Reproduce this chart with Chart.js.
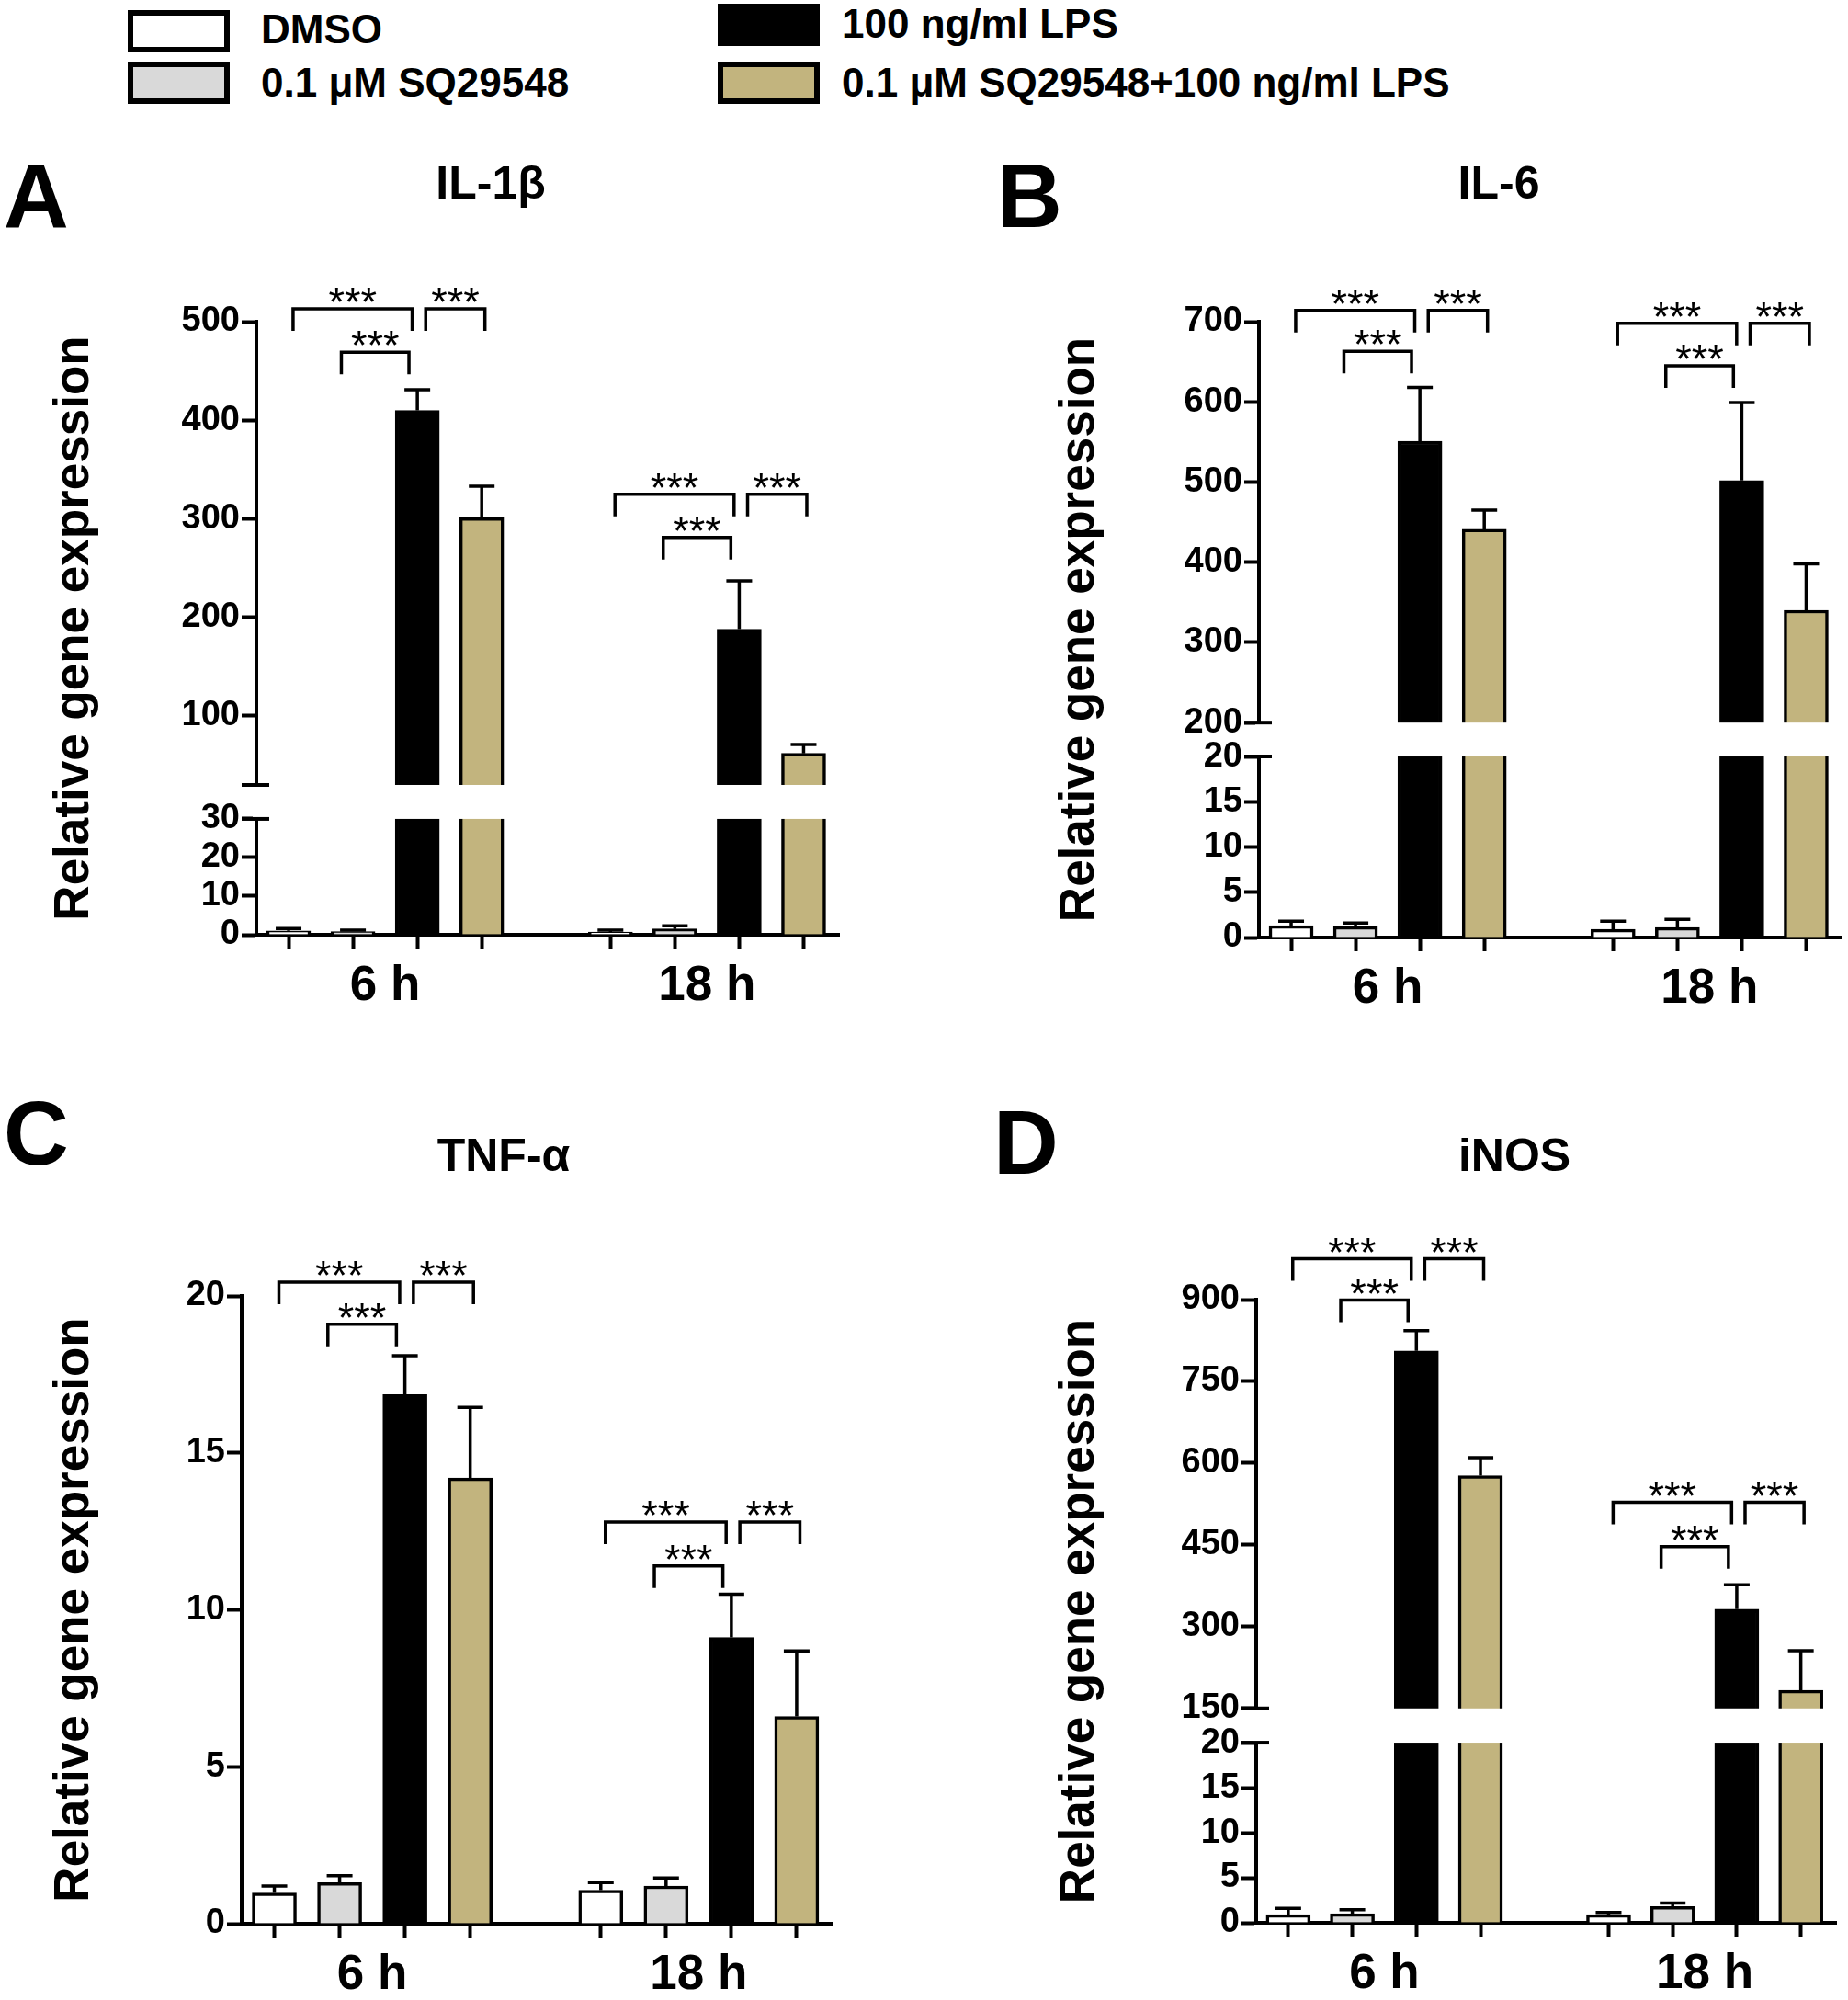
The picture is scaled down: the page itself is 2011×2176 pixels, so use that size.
<!DOCTYPE html>
<html>
<head>
<meta charset="utf-8">
<script src="https://cdn.jsdelivr.net/npm/chart.js@4.4.1/dist/chart.umd.min.js"></script>
<style>
  body { margin: 0; background: #fff; width: 2011px; height: 2176px; position: relative; overflow: hidden;
         font-family: "Liberation Sans", Arial, sans-serif; }
  .key { position: absolute; box-sizing: border-box; border: 6px solid #000; width: 111px; height: 46px; }
  .lab { position: absolute; font-weight: bold; font-size: 44px; line-height: 44px; color: #000; white-space: nowrap; }
  canvas { position: absolute; }
</style>
</head>
<body>
<script>
const FONT = '"Liberation Sans", Arial, sans-serif';

const groups = ['6 h', '18 h'];
const series = ['DMSO', '0.1 μM SQ29548', '100 ng/ml LPS', '0.1 μM SQ29548+100 ng/ml LPS'];
const seriesColors = ['#ffffff', '#d9d9d9', '#000000', '#c2b47e'];
// x position of each series' bar in the 6 h and 18 h groups
const barPos = [[1, 6], [2, 7], [3, 8], [4, 9]];
const groupCentres = [2.5, 7.5];

// values ordered 6 h (DMSO, SQ, LPS, SQ+LPS) then 18 h (same order)
const il1bMean = [1.0, 0.8, 410, 301, 0.7, 1.5, 188, 62];
const il1bSem  = [0.6, 0.4, 21, 32, 0.5, 0.8, 49, 9];
const il6Mean  = [1.3, 1.2, 551, 441, 0.9, 1.1, 502, 340];
const il6Sem   = [0.5, 0.4, 67, 24, 0.9, 0.9, 97, 58];
const tnfMean  = [0.98, 1.31, 16.86, 14.2, 1.07, 1.2, 9.12, 6.6];
const tnfSem   = [0.22, 0.22, 1.24, 2.25, 0.24, 0.26, 1.38, 2.09];
const inosMean = [0.9, 1.0, 806, 577, 0.9, 1.8, 332, 183];
const inosSem  = [0.7, 0.45, 37, 33, 0.25, 0.4, 45, 73];

// y tick labels
const il1bTicks = [0, 10, 20, 30, 100, 200, 300, 400, 500];
const il6Ticks  = [0, 5, 10, 15, 20, 200, 300, 400, 500, 600, 700];
const tnfTicks  = [0, 5, 10, 15, 20];
const inosTicks = [0, 5, 10, 15, 20, 150, 300, 450, 600, 750, 900];

// bracket heights: 6 h outer, 6 h inner, 18 h outer, 18 h inner
const il1bSig = [513, 469, 325, 281];
const il6Sig  = [714, 663, 698, 645];
const tnfSig  = [20.44, 19.1, 12.8, 11.4];
const inosSig = [975, 899, 528, 447];

// legend (plain html)
const keyPlaces = [[139, 11, 284, 10], [139, 67, 284, 68], [781, 4, 916, 4], [781, 67, 916, 68]];
series.forEach((name, i) => {
  const [bx, by, tx, ty] = keyPlaces[i];
  const box = document.createElement('div');
  box.className = 'key';
  box.style.left = bx + 'px'; box.style.top = by + 'px';
  box.style.background = seriesColors[i];
  document.body.appendChild(box);
  const lab = document.createElement('div');
  lab.className = 'lab';
  lab.style.left = tx + 'px'; lab.style.top = ty + 'px';
  lab.textContent = name;
  document.body.appendChild(lab);
});

// y scale with a gap: values up to lowMax fill the bottom lowFrac of the axis,
// values from upMin fill the part above upFrac
class BrokenScale extends Chart.LinearScale {
  getPixelForValue(value) {
    const b = this.options.brk;
    if (value === null || value === undefined || isNaN(value)) return NaN;
    let f;
    if (value <= b.lowMax) f = (value - this.min) / (b.lowMax - this.min) * b.lowFrac;
    else f = b.upFrac + (value - b.upMin) / (this.max - b.upMin) * (1 - b.upFrac);
    return this.bottom - f * (this.bottom - this.top);
  }
  getValueForPixel(pixel) {
    const b = this.options.brk;
    const f = (this.bottom - pixel) / (this.bottom - this.top);
    if (f <= b.lowFrac) return this.min + f / b.lowFrac * (b.lowMax - this.min);
    return b.upMin + (f - b.upFrac) / (1 - b.upFrac) * (this.max - b.upMin);
  }
}
BrokenScale.id = 'broken';
BrokenScale.defaults = Chart.LinearScale.defaults;
Chart.register(BrokenScale);

const panels = [
  { letter: 'A', title: 'IL-1β', mean: il1bMean, sem: il1bSem, ticks: il1bTicks, sig: il1bSig,
    yMax: 500, brk: { lowMax: 30, upMin: 30, lowFrac: 0.189, upFrac: 0.2444 },
    box: [0, 120, 1000, 981], pad: { left: 50, right: 87, top: 230, bottom: 0 }, yW: 229, xH: 84,
    letterAt: [4, 247], titleAt: [534, 216] },
  { letter: 'B', title: 'IL-6', mean: il6Mean, sem: il6Sem, ticks: il6Ticks, sig: il6Sig,
    yMax: 700, brk: { lowMax: 20, upMin: 200, lowFrac: 0.294, upFrac: 0.349 },
    box: [1010, 120, 1001, 984], pad: { left: 134, right: 7, top: 230, bottom: 0 }, yW: 226, xH: 84,
    letterAt: [1085, 247], titleAt: [1631, 216] },
  { letter: 'C', title: 'TNF-α', mean: tnfMean, sem: tnfSem, ticks: tnfTicks, sig: tnfSig,
    yMax: 20, brk: null,
    box: [0, 1140, 1000, 1036], pad: { left: 50, right: 94, top: 270, bottom: 0 }, yW: 213, xH: 83,
    letterAt: [4, 1267], titleAt: [548, 1274] },
  { letter: 'D', title: 'iNOS', mean: inosMean, sem: inosSem, ticks: inosTicks, sig: inosSig,
    yMax: 900, brk: { lowMax: 20, upMin: 150, lowFrac: 0.289, upFrac: 0.344 },
    box: [1010, 1140, 1001, 1036], pad: { left: 134, right: 13, top: 274, bottom: 0 }, yW: 223, xH: 84,
    letterAt: [1081, 1277], titleAt: [1648, 1274] }
];

// where the three brackets of a group start and end, relative to its first bar
const bracketSpans = [[0.07, 1.92, 0], [0.82, 1.87, 1], [2.13, 3.05, 0]];
const xTickValues = barPos.flat().concat(groupCentres).sort((a, b) => a - b);

function decor(p) {
  return {
    id: 'decor',
    afterDatasetsDraw(chart) {
      const ctx = chart.ctx, xs = chart.scales.x, ys = chart.scales.y, area = chart.chartArea;
      ctx.save();
      ctx.strokeStyle = '#000';
      ctx.lineCap = 'butt';

      // gap in the axis and bars
      if (p.brk) {
        const h = ys.bottom - ys.top;
        const yLow = ys.bottom - p.brk.lowFrac * h;
        const yUp = ys.bottom - p.brk.upFrac * h;
        ctx.fillStyle = '#fff';
        ctx.fillRect(area.left - 4, yUp, area.right - area.left + 8, yLow - yUp);
        ctx.lineWidth = 4;
        [yUp, yLow].forEach(y => {
          ctx.beginPath(); ctx.moveTo(area.left - 16, y); ctx.lineTo(area.left + 14, y); ctx.stroke();
        });
      }

      // error bars (upper half only)
      ctx.lineWidth = 3.5;
      chart.data.datasets.forEach(ds => {
        ds.data.forEach((pt, j) => {
          const x = xs.getPixelForValue(pt.x);
          const y0 = ys.getPixelForValue(pt.y);
          const y1 = ys.getPixelForValue(pt.y + ds.sem[j]);
          ctx.beginPath();
          ctx.moveTo(x, y0); ctx.lineTo(x, y1);
          ctx.moveTo(x - 14, y1); ctx.lineTo(x + 14, y1);
          ctx.stroke();
        });
      });

      // significance brackets
      ctx.fillStyle = '#000';
      ctx.font = '45px ' + FONT;
      ctx.textAlign = 'center';
      ctx.textBaseline = 'alphabetic';
      [1, 6].forEach((g, gi) => {
        bracketSpans.forEach(([a, b, lvl]) => {
          const y = ys.getPixelForValue(p.sig[gi * 2 + lvl]);
          const x1 = xs.getPixelForValue(g + a), x2 = xs.getPixelForValue(g + b);
          ctx.beginPath();
          ctx.moveTo(x1, y + 24); ctx.lineTo(x1, y); ctx.lineTo(x2, y); ctx.lineTo(x2, y + 24);
          ctx.stroke();
          ctx.fillText('***', (x1 + x2) / 2, y + 8);
        });
      });
      ctx.restore();
    },
    afterDraw(chart) {
      const ctx = chart.ctx;
      ctx.save();
      ctx.fillStyle = '#000';
      ctx.textBaseline = 'alphabetic';
      ctx.font = 'bold 98px ' + FONT;
      ctx.textAlign = 'left';
      ctx.fillText(p.letter, p.letterAt[0] - p.box[0], p.letterAt[1] - p.box[1]);
      ctx.font = 'bold 50px ' + FONT;
      ctx.textAlign = 'center';
      ctx.fillText(p.title, p.titleAt[0] - p.box[0], p.titleAt[1] - p.box[1]);
      ctx.restore();
    }
  };
}

panels.forEach(p => {
  const canvas = document.createElement('canvas');
  const [left, top, w, h] = p.box;
  canvas.width = w; canvas.height = h;
  canvas.style.left = left + 'px'; canvas.style.top = top + 'px';
  canvas.style.width = w + 'px'; canvas.style.height = h + 'px';
  document.body.appendChild(canvas);

  const datasets = series.map((name, i) => ({
    label: name,
    data: barPos[i].map((x, g) => ({ x: x, y: p.mean[g * 4 + i] })),
    sem: barPos[i].map((x, g) => p.sem[g * 4 + i]),
    backgroundColor: seriesColors[i],
    borderColor: '#000',
    borderWidth: 3.5,
    barThickness: 48,
    grouped: false
  }));

  new Chart(canvas, {
    type: 'bar',
    data: { datasets: datasets },
    options: {
      responsive: false,
      animation: false,
      devicePixelRatio: 1,
      layout: { padding: p.pad },
      plugins: { legend: { display: false }, tooltip: { enabled: false } },
      scales: {
        x: {
          type: 'linear', min: 0.5, max: 9.55, offset: false,
          afterBuildTicks: s => { s.ticks = xTickValues.map(v => ({ value: v })); },
          afterFit: s => { s.height = p.xH; },
          grid: {
            drawOnChartArea: false, offset: false, tickLength: 15, tickWidth: 4,
            tickColor: c => (c.tick && groupCentres.includes(c.tick.value)) ? 'rgba(0,0,0,0)' : '#000'
          },
          border: { color: '#000', width: 4 },
          ticks: {
            color: '#000', autoSkip: false, maxRotation: 0, padding: 10,
            font: { family: FONT, size: 53, weight: 'bold' },
            callback: v => { const k = groupCentres.indexOf(v); return k < 0 ? '' : groups[k]; }
          }
        },
        y: {
          type: p.brk ? 'broken' : 'linear',
          min: 0, max: p.yMax, brk: p.brk,
          afterBuildTicks: s => { s.ticks = p.ticks.map(v => ({ value: v })); },
          afterFit: s => { s.width = p.yW; },
          grid: { drawOnChartArea: false, tickLength: 16, tickWidth: 4, tickColor: '#000' },
          border: { color: '#000', width: 4 },
          ticks: {
            color: '#000', padding: 2, autoSkip: false,
            font: { family: FONT, size: 38, weight: 'bold' },
            callback: v => String(v)
          },
          title: {
            display: true, text: 'Relative gene expression', color: '#000', padding: 0,
            font: { family: FONT, size: 53, weight: 'bold' }
          }
        }
      }
    },
    plugins: [decor(p)]
  });
});
</script>
</body>
</html>
